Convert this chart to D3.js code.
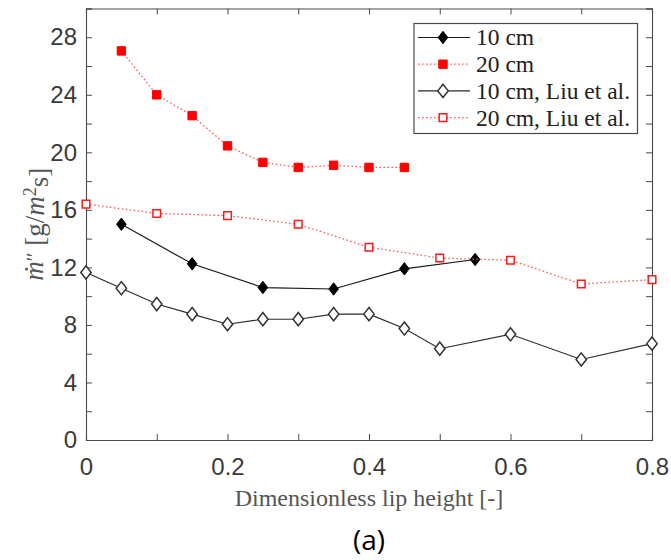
<!DOCTYPE html>
<html>
<head>
<meta charset="utf-8">
<script src="https://cdn.jsdelivr.net/npm/d3@7/dist/d3.min.js"></script>
<style>
  html, body { margin: 0; padding: 0; background: #fff; }
  svg { display: block; }
</style>
</head>
<body>
<svg id="chart" width="671" height="560"></svg>
<script>
// Burning rate vs. dimensionless lip height
const x10cm = [0.05, 0.15, 0.25, 0.35, 0.45, 0.55];
const y10cm = [15.0, 12.25, 10.6, 10.5, 11.9, 12.55];

const x20cm = [0.05, 0.1, 0.15, 0.2, 0.25, 0.3, 0.35, 0.4, 0.45];
const y20cm = [27.05, 24.0, 22.55, 20.45, 19.3, 18.95, 19.1, 18.95, 18.95];

const xLiu10 = [0, 0.05, 0.1, 0.15, 0.2, 0.25, 0.3, 0.35, 0.4, 0.45, 0.5, 0.6, 0.7, 0.8];
const yLiu10 = [11.65, 10.55, 9.45, 8.75, 8.05, 8.4, 8.4, 8.75, 8.75, 7.75, 6.35, 7.35, 5.6, 6.7];

const xLiu20 = [0, 0.1, 0.2, 0.3, 0.4, 0.5, 0.6, 0.7, 0.8];
const yLiu20 = [16.4, 15.75, 15.6, 15.0, 13.4, 12.65, 12.5, 10.85, 11.15];

const seriesNames = ["10 cm", "20 cm", "10 cm, Liu et al.", "20 cm, Liu et al."];

const xTicks = [0, 0.1, 0.2, 0.3, 0.4, 0.5, 0.6, 0.7, 0.8];
const xTickLabels = ["0", "", "0.2", "", "0.4", "", "0.6", "", "0.8"];
const yTicks = [0, 2, 4, 6, 8, 10, 12, 14, 16, 18, 20, 22, 24, 26, 28, 30];
const yTickLabels = ["0", "", "4", "", "8", "", "12", "", "16", "", "20", "", "24", "", "28", ""];

const xTitle = "Dimensionless lip height [-]";
const caption = "(a)";

// ---- layout ----
const plot = { left: 86, right: 652, top: 8.5, bottom: 440 };
const axisColor = "#4a4a4a";
const labelColor = "#3a3a3a";

const svg = d3.select("#chart");
const x = d3.scaleLinear().domain([0, 0.8]).range([plot.left, plot.right]);
const y = d3.scaleLinear().domain([0, 30]).range([plot.bottom, plot.top]);

const zip = (xs, ys) => xs.map((v, i) => ({ x: v, y: ys[i] }));
const series = [
  { name: seriesNames[0], data: zip(x10cm, y10cm), line: "#1a1a1a", dash: null, lw: 1.2, marker: "diamond", fill: "#000", stroke: "#000" },
  { name: seriesNames[1], data: zip(x20cm, y20cm), line: "#ff5a5a", dash: "1.6,2.4", lw: 1.3, marker: "square", fill: "#ff0000", stroke: "#ff0000" },
  { name: seriesNames[2], data: zip(xLiu10, yLiu10), line: "#2a2a2a", dash: null, lw: 1.1, marker: "diamond", fill: "#fff", stroke: "#333" },
  { name: seriesNames[3], data: zip(xLiu20, yLiu20), line: "#ff5a5a", dash: "1.6,2.4", lw: 1.3, marker: "square", fill: "#fff", stroke: "#ff1a1a" }
];

function markerPath(kind, filled) {
  if (kind === "diamond") {
    const w = filled ? 4.8 : 5.2, h = filled ? 6.2 : 6.6;
    return `M0,${-h}L${w},0L0,${h}L${-w},0Z`;
  }
  const s = filled ? 4.2 : 3.8;
  return `M${-s},${-s}H${s}V${s}H${-s}Z`;
}

// ---- axes (box with inward ticks) ----
const tickLen = 6;
const bottomAxis = d3.axisBottom(x).tickValues(xTicks).tickSize(-tickLen).tickPadding(18)
  .tickFormat((d, i) => xTickLabels[i]);
const topAxis = d3.axisTop(x).tickValues(xTicks).tickSize(-tickLen).tickFormat("");
const leftAxis = d3.axisLeft(y).tickValues(yTicks).tickSize(-tickLen).tickPadding(9)
  .tickFormat((d, i) => yTickLabels[i]);
const rightAxis = d3.axisRight(y).tickValues(yTicks).tickSize(-tickLen).tickFormat("");

function styleAxis(g) {
  g.select(".domain").attr("stroke", axisColor).attr("stroke-width", 1.1);
  g.selectAll(".tick line").attr("stroke", axisColor).attr("stroke-width", 1);
  g.selectAll(".tick text")
    .attr("fill", labelColor)
    .style("font-family", "'Liberation Sans', Arial, sans-serif")
    .style("font-size", "24px");
}

svg.append("g").attr("transform", `translate(0,${plot.bottom})`).call(bottomAxis).call(styleAxis);
svg.append("g").attr("transform", `translate(0,${plot.top})`).call(topAxis).call(styleAxis);
svg.append("g").attr("transform", `translate(${plot.left},0)`).call(leftAxis).call(styleAxis);
svg.append("g").attr("transform", `translate(${plot.right},0)`).call(rightAxis).call(styleAxis);

// ---- series ----
const line = d3.line().x(d => x(d.x)).y(d => y(d.y));
series.forEach(s => {
  const g = svg.append("g");
  g.append("path")
    .datum(s.data)
    .attr("d", line)
    .attr("fill", "none")
    .attr("stroke", s.line)
    .attr("stroke-width", s.lw)
    .attr("stroke-dasharray", s.dash);
  const filled = s.fill !== "#fff";
  g.selectAll("path.mk")
    .data(s.data)
    .join("path")
    .attr("class", "mk")
    .attr("transform", d => `translate(${x(d.x)},${y(d.y)})`)
    .attr("d", markerPath(s.marker, filled))
    .attr("fill", s.fill)
    .attr("stroke", s.stroke)
    .attr("stroke-width", filled ? 1 : 1.5);
});

// ---- legend ----
const leg = { x: 414, y: 23.5, w: 223.5, h: 110, row0: 37.5, rowStep: 26.7 };
const legend = svg.append("g");
legend.append("rect")
  .attr("x", leg.x).attr("y", leg.y).attr("width", leg.w).attr("height", leg.h)
  .attr("fill", "#fff").attr("stroke", axisColor).attr("stroke-width", 1.2);
series.forEach((s, i) => {
  const cy = leg.row0 + i * leg.rowStep;
  const g = legend.append("g");
  g.append("line")
    .attr("x1", leg.x + 4).attr("x2", leg.x + 56).attr("y1", cy).attr("y2", cy)
    .attr("stroke", s.line).attr("stroke-width", s.lw).attr("stroke-dasharray", s.dash);
  const filled = s.fill !== "#fff";
  g.append("path")
    .attr("transform", `translate(${leg.x + 29},${cy})`)
    .attr("d", markerPath(s.marker, filled))
    .attr("fill", s.fill).attr("stroke", s.stroke).attr("stroke-width", filled ? 1 : 1.5);
  g.append("text")
    .attr("x", leg.x + 62).attr("y", cy).attr("dy", "0.34em")
    .attr("fill", "#222")
    .style("font-family", "'Liberation Serif', 'DejaVu Serif', serif")
    .style("font-size", "23.5px")
    .text(s.name);
});

// ---- axis titles ----
svg.append("text")
  .attr("x", (plot.left + plot.right) / 2).attr("y", 506)
  .attr("text-anchor", "middle")
  .attr("fill", "#555")
  .style("font-family", "'Liberation Serif', 'DejaVu Serif', serif")
  .style("font-size", "24px")
  .text(xTitle);

const yt = svg.append("text")
  .attr("transform", `translate(43,${(plot.top + plot.bottom) / 2}) rotate(-90)`)
  .attr("text-anchor", "middle")
  .attr("fill", "#555")
  .style("font-family", "'Liberation Serif', 'DejaVu Serif', serif")
  .style("font-size", "27px");
yt.append("tspan").style("font-style", "italic").text("\u1E41");
yt.append("tspan").attr("dy", "-0.12em").style("font-size", "20px").text("\u2032\u2032");
yt.append("tspan").attr("dy", "0.12em").text(" [g/");
yt.append("tspan").style("font-style", "italic").text("m");
yt.append("tspan").attr("dy", "-0.45em").style("font-size", "18px").text("2");
yt.append("tspan").attr("dy", "0.45em").text("s]");

svg.append("text")
  .attr("x", (plot.left + plot.right) / 2).attr("y", 550)
  .attr("text-anchor", "middle")
  .attr("fill", "#000")
  .style("font-family", "'Open Sans', 'Noto Sans', sans-serif")
  .style("font-size", "28px")
  .text(caption);
</script>
</body>
</html>
